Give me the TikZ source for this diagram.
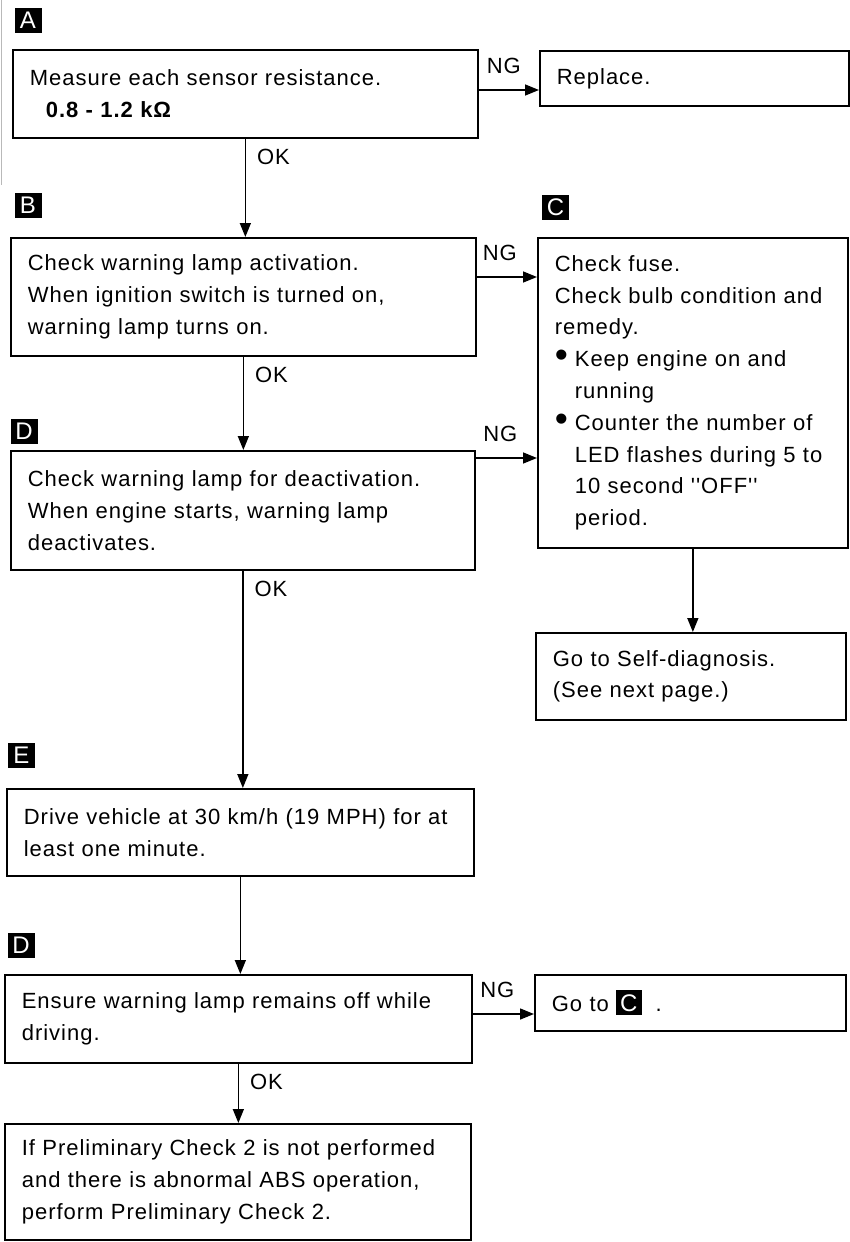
\documentclass[tikz,border=0pt]{standalone}
\usepackage{fontspec}
\usepackage{graphicx}
\setmainfont{Liberation Sans}
\newfontfamily\txtfam[LetterSpace=4.5]{Liberation Sans}
\newfontfamily\labfam{Liberation Sans}
\newcommand\tf{\txtfam\fontsize{22}{31.8}\selectfont}
\newcommand\lf{\labfam\fontsize{24}{24}\selectfont}
\newcommand\bul{\makebox[20pt][l]{\raisebox{-1pt}{\scalebox{1.7}{•}}}}
\newcommand\inlab[1]{{\setlength\fboxsep{4pt}\colorbox{black}{\lf\color{white}#1}}}
\usetikzlibrary{arrows.meta,calc}
\begin{document}
\begin{tikzpicture}[x=1pt,y=-1pt,
  box/.style={draw, line width=1.7pt, anchor=north west, align=left, inner xsep=17pt, inner ysep=0pt, font=\tf},
  lab/.style={fill=black, text=white, minimum width=27pt, minimum height=25pt, inner sep=0pt, font=\lf},
  arr/.style={line width=1.5pt, -{Triangle[length=14pt,width=11pt]}},
  tag/.style={font=\tf, inner sep=0pt}]
\useasboundingbox (0,0) rectangle (849,1242);
% faint scan edge
\draw[gray!55, line width=0.8pt] (1,0) -- (1,185);

% section labels
\node[lab] (labA) at (28,20) {A};
\node[lab] (labB) at (28,205) {B};
\node[lab] (labC) at (555.5,207) {C};
\node[lab] (labD) at (24,431) {D};
\node[lab] (labE) at (21.5,755) {E};
\node[lab] (labD2) at (21,945) {D};

% boxes
\node[box, text width=431pt, minimum height=88pt] (A) at (12,49)
  {\mbox{Measure each sensor resistance.}\\\mbox{\hspace*{16pt}\bfseries 0.8 - 1.2 kΩ}};
\node[box, text width=275pt, minimum height=55pt] (R) at (539,50) {\mbox{Replace.}};
\node[box, text width=431pt, minimum height=118pt] (B) at (10,237)
  {\mbox{Check warning lamp activation.}\\\mbox{When ignition switch is turned on,}\\\mbox{warning lamp turns on.}};
\node[box, text width=276pt, minimum height=310pt] (C) at (537,237)
  {\mbox{Check fuse.}\\\mbox{Check bulb condition and}\\\mbox{remedy.}\\
   \mbox{\bul Keep engine on and}\\\mbox{\hspace*{20pt}running}\\
   \mbox{\bul Counter the number of}\\\mbox{\hspace*{20pt}LED flashes during 5 to}\\
   \mbox{\hspace*{20pt}10 second ''OFF''}\\\mbox{\hspace*{20pt}period.}};
\node[box, text width=430pt, minimum height=119pt] (D) at (10,450)
  {\mbox{Check warning lamp for deactivation.}\\\mbox{When engine starts, warning lamp}\\\mbox{deactivates.}};
\node[box, text width=276pt, minimum height=87pt] (SD) at (535,632)
  {\mbox{Go to Self-diagnosis.}\\\mbox{(See next page.)}};
\node[box, text width=433pt, minimum height=87pt] (E) at (6,788)
  {\mbox{Drive vehicle at 30 km/h (19 MPH) for at}\\\mbox{least one minute.}};
\node[box, text width=433pt, minimum height=88pt] (D2) at (4,974)
  {\mbox{Ensure warning lamp remains off while}\\\mbox{driving.}};
\node[box, text width=277pt, minimum height=56pt] (G) at (534,974)
  {\mbox{Go to \inlab{C}\hspace*{14pt}.}};
\node[box, text width=432pt, minimum height=116pt] (L) at (4,1123)
  {\mbox{If Preliminary Check 2 is not performed}\\\mbox{and there is abnormal ABS operation,}\\\mbox{perform Preliminary Check 2.}};

% NG connectors
\coordinate (ngA) at ([yshift=-41pt]A.north east);
\coordinate (ngB) at ([yshift=-40pt]B.north east);
\coordinate (ngD) at ([yshift=-8pt]D.north east);
\coordinate (ngD2) at ([yshift=-40pt]D2.north east);
\draw[arr] (ngA) -- node[tag, above=16pt, xshift=-5pt] {NG} (ngA -| R.west);
\draw[arr] (ngB) -- node[tag, above=16pt, xshift=-7pt] {NG} (ngB -| C.west);
\draw[arr] (ngD) -- node[tag, above=16pt, xshift=-6pt] {NG} (ngD -| C.west);
\draw[arr] (ngD2) -- node[tag, above=16pt, xshift=-6pt] {NG} (ngD2 -| G.west);

% OK connectors
\draw[arr] (A.south) -- node[tag, pos=0, anchor=north west, xshift=11pt, yshift=-10pt] {OK} (A.south |- B.north);
\draw[arr] (B.south) -- node[tag, pos=0, anchor=north west, xshift=11pt, yshift=-10pt] {OK} (B.south |- D.north);
\draw[arr] (D.south) -- node[tag, pos=0, anchor=north west, xshift=11pt, yshift=-10pt] {OK} (D.south |- E.north);
\draw[arr] (E.south) -- (E.south |- D2.north);
\draw[arr] (D2.south) -- node[tag, pos=0, anchor=north west, xshift=11pt, yshift=-10pt] {OK} (D2.south |- L.north);
\draw[arr] (C.south) -- (C.south |- SD.north);
\end{tikzpicture}
\end{document}
